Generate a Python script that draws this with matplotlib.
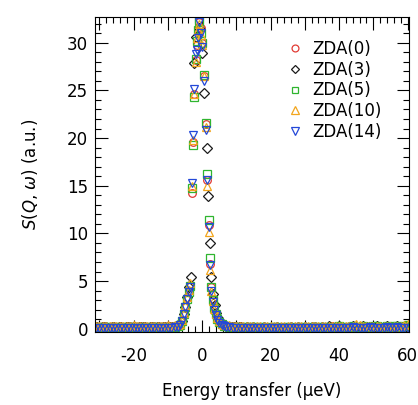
"""S(Q, w) quasi-elastic spectra for the ZDA samples."""
import matplotlib

matplotlib.use("Agg")
import matplotlib.pyplot as plt
import numpy as np
from matplotlib.ticker import MultipleLocator, FuncFormatter

DPI = 100
FIGSIZE = (4.18, 4.05)

# energy grid of the flat wings (ueV)
E_LEFT = np.arange(-31, -6, 1.0)
E_RIGHT = np.arange(7, 61, 1.0)

# energy grid around the elastic line (ueV)
E_PEAK = [-6.5, -5.9, -5.4, -4.9, -4.4, -3.9, -3.4, -2.9, -2.6, -2.25, -1.9, -1.55,
          -1.25, -0.95, -0.45, 0.05, 0.55, 1.05, 1.4, 1.95, 2.3, 2.7, 3.05, 3.5,
          4.0, 4.5, 5.0, 5.8, 6.5]
E_PEAK_ZDA3 = [-6.7, -6.0, -5.4, -4.9, -4.3, -3.7, -3.2, -2.3, -1.7, -0.9, 0.1, 0.6,
               1.3, 1.8, 2.2, 2.7, 3.2, 3.7, 4.2, 4.8, 5.5, 6.3]

# peak intensities
zda0_peak = [0.45, 0.9, 1.6, 2.4, 3.2, 4.0, 4.6, 14.2, 19.6, 24.6, 28.2, 29.8, 31.2,
             32.2, 31.5, 30.0, 26.5, 21.5, 15.6, 10.9, 6.8, 4.4, 3.1, 2.2, 1.6, 1.1,
             0.8, 0.5, 0.35]
zda3_peak = [0.4, 0.8, 1.5, 2.3, 3.3, 4.4, 5.4, 27.9, 30.6, 31.5, 28.9, 24.7, 19.0,
             13.9, 9.0, 5.4, 3.6, 2.5, 1.7, 1.1, 0.7, 0.4]
zda5_peak = [0.4, 0.85, 1.5, 2.3, 3.1, 3.9, 4.5, 14.8, 19.3, 24.3, 28.3, 30.2, 31.3,
             32.3, 31.0, 30.0, 26.6, 21.6, 16.2, 11.4, 7.4, 4.4, 3.0, 2.2, 1.5, 1.0,
             0.7, 0.45, 0.3]
zda10_peak = [0.5, 0.95, 1.7, 2.5, 3.3, 4.1, 4.8, 15.0, 19.8, 24.6, 28.0, 30.5, 31.3,
              32.0, 30.8, 29.8, 26.5, 21.2, 15.0, 10.2, 6.2, 4.0, 2.9, 2.1, 1.5, 1.1,
              0.8, 0.55, 0.4]
zda14_peak = [0.35, 0.8, 1.5, 2.3, 3.1, 3.9, 4.4, 15.3, 20.3, 25.2, 28.8, 29.2, 30.5,
              32.2, 31.0, 29.6, 26.0, 20.9, 15.6, 10.7, 6.7, 4.0, 2.8, 2.0, 1.4, 0.95,
              0.65, 0.4, 0.25]

# wing intensities (left: -31..-7, right: 7..60)
zda0_left = [0.24, 0.21, 0.27, 0.23, 0.2, 0.25, 0.22, 0.26, 0.21, 0.24, 0.23, 0.27, 0.21,
             0.25, 0.24, 0.22, 0.26, 0.23, 0.25, 0.21, 0.24, 0.27, 0.26, 0.29, 0.32]
zda0_right = [0.3, 0.27, 0.25, 0.23, 0.24, 0.21, 0.22, 0.2, 0.23, 0.21,
              0.2, 0.22, 0.19, 0.21, 0.2, 0.23, 0.18, 0.21, 0.2, 0.22,
              0.19, 0.23, 0.2, 0.21, 0.18, 0.22, 0.2, 0.19, 0.23, 0.21,
              0.2, 0.24, 0.18, 0.22, 0.21, 0.19, 0.23, 0.2, 0.22, 0.18,
              0.21, 0.24, 0.2, 0.19, 0.22, 0.21, 0.18, 0.23, 0.2, 0.22,
              0.19, 0.21, 0.24, 0.2]
zda3_left = [0.15, 0.12, 0.18, 0.14, 0.11, 0.16, 0.13, 0.17, 0.12, 0.15, 0.14, 0.18, 0.12,
             0.16, 0.15, 0.13, 0.17, 0.14, 0.16, 0.12, 0.15, 0.18, 0.17, 0.22, 0.28]
zda3_right = [0.26, 0.2, 0.17, 0.15, 0.16, 0.13, 0.14, 0.12, 0.15, 0.13,
              0.12, 0.14, 0.11, 0.13, 0.12, 0.15, 0.1, 0.13, 0.12, 0.16,
              0.11, 0.15, 0.12, 0.18, 0.1, 0.14, 0.22, 0.11, 0.15, 0.13,
              0.25, 0.12, 0.1, 0.28, 0.13, 0.11, 0.15, 0.3, 0.14, 0.1,
              0.26, 0.16, 0.12, 0.11, 0.3, 0.13, 0.1, 0.27, 0.12, 0.15,
              0.28, 0.11, 0.16, 0.13]
zda5_left = [0.18, 0.15, 0.2, 0.16, 0.14, 0.19, 0.15, 0.2, 0.14, 0.17, 0.16, 0.21, 0.15,
             0.18, 0.17, 0.15, 0.2, 0.16, 0.18, 0.14, 0.17, 0.2, 0.19, 0.22, 0.26]
zda5_right = [0.25, 0.21, 0.18, 0.16, 0.17, 0.15, 0.16, 0.14, 0.17, 0.15,
              0.14, 0.16, 0.13, 0.15, 0.14, 0.17, 0.13, 0.15, 0.14, 0.18,
              0.13, 0.17, 0.14, 0.19, 0.13, 0.16, 0.2, 0.14, 0.17, 0.15,
              0.22, 0.15, 0.13, 0.25, 0.16, 0.14, 0.2, 0.28, 0.17, 0.15,
              0.32, 0.2, 0.16, 0.3, 0.26, 0.18, 0.15, 0.3, 0.2, 0.27,
              0.33, 0.18, 0.3, 0.35]
zda10_left = [0.32, 0.3, 0.34, 0.31, 0.29, 0.33, 0.3, 0.34, 0.29, 0.32, 0.31, 0.35, 0.3,
              0.33, 0.32, 0.3, 0.34, 0.31, 0.33, 0.29, 0.32, 0.35, 0.34, 0.37, 0.42]
zda10_right = [0.42, 0.37, 0.34, 0.32, 0.33, 0.3, 0.31, 0.29, 0.32, 0.3,
               0.29, 0.31, 0.28, 0.3, 0.29, 0.32, 0.27, 0.3, 0.29, 0.31,
               0.28, 0.32, 0.29, 0.3, 0.27, 0.31, 0.29, 0.28, 0.32, 0.3,
               0.29, 0.33, 0.27, 0.31, 0.3, 0.28, 0.32, 0.29, 0.45, 0.4,
               0.3, 0.33, 0.29, 0.28, 0.31, 0.3, 0.27, 0.32, 0.29, 0.31,
               0.28, 0.3, 0.38, 0.45]
zda14_left = [0.1, 0.08, 0.12, 0.09, 0.07, 0.11, 0.08, 0.12, 0.07, 0.1, 0.09, 0.13, 0.08,
              0.11, 0.1, 0.08, 0.12, 0.09, 0.11, 0.07, 0.1, 0.13, 0.12, 0.16, 0.22]
zda14_right = [0.2, 0.15, 0.12, 0.1, 0.11, 0.08, 0.09, 0.07, 0.1, 0.08,
               0.07, 0.09, 0.06, 0.08, 0.07, 0.1, 0.06, 0.08, 0.07, 0.09,
               0.06, 0.1, 0.07, 0.09, 0.06, 0.08, 0.1, 0.07, 0.12, 0.08,
               0.1, 0.07, 0.06, 0.13, 0.08, 0.07, 0.12, 0.15, 0.09, 0.07,
               0.12, 0.09, 0.14, 0.08, 0.13, 0.11, 0.07, 0.14, 0.1, 0.12,
               0.15, 0.08, 0.13, 0.1]

SERIES = [
    # label, peak energies, peak, left wing, right wing, marker, size, colour
    ("ZDA(0)", E_PEAK, zda0_peak, zda0_left, zda0_right, "o", 5.5, "#e23b34"),
    ("ZDA(3)", E_PEAK_ZDA3, zda3_peak, zda3_left, zda3_right, "D", 5.0, "#1a1a1a"),
    ("ZDA(5)", E_PEAK, zda5_peak, zda5_left, zda5_right, "s", 5.5, "#2fb52f"),
    ("ZDA(10)", E_PEAK, zda10_peak, zda10_left, zda10_right, "^", 6.0, "#f2a51c"),
    ("ZDA(14)", E_PEAK, zda14_peak, zda14_left, zda14_right, "v", 6.0, "#2448d8"),
]

plt.rcParams["font.family"] = ["DejaVu Sans"]
plt.rcParams["mathtext.fontset"] = "dejavusans"
FS = 12

fig = plt.figure(figsize=FIGSIZE, dpi=DPI)
ax = fig.add_axes([0.227, 0.18, 0.752, 0.778])

for label, e_pk, pk, left, right, mk, ms, col in SERIES:
    assert len(e_pk) == len(pk) and len(left) == len(E_LEFT) and len(right) == len(E_RIGHT)
    x = np.concatenate([E_LEFT, e_pk, E_RIGHT])
    y = np.concatenate([left, pk, right])
    ax.plot(x, y, linestyle="none", marker=mk, markersize=ms, markerfacecolor="none",
            markeredgecolor=col, markeredgewidth=0.9, label=label)

ax.set_xlim(-31.3, 60.5)
ax.set_ylim(-0.35, 32.7)

ax.xaxis.set_major_locator(MultipleLocator(10))
ax.xaxis.set_minor_locator(MultipleLocator(2))
ax.xaxis.set_major_formatter(FuncFormatter(lambda v, p: f"{v:.0f}" if round(v) % 20 == 0 else ""))
ax.yaxis.set_major_locator(MultipleLocator(5))
ax.yaxis.set_minor_locator(MultipleLocator(1))
ax.tick_params(which="both", direction="in", top=True, right=True, width=0.8, labelsize=FS)
ax.tick_params(which="major", length=9)
ax.tick_params(which="minor", length=4.5)
ax.tick_params(axis="x", pad=11)
ax.tick_params(axis="y", pad=5)
for s in ax.spines.values():
    s.set_linewidth(0.8)

ax.set_xlabel("Energy transfer (\u03bceV)", fontsize=FS, labelpad=12)
ax.set_ylabel(r"$S$($Q$, $\omega$) (a.u.)", fontsize=FS, labelpad=19)

ax.legend(loc="upper right", bbox_to_anchor=(0.95, 0.965), frameon=False, fontsize=FS,
          handlelength=0.9, handletextpad=0.6, labelspacing=0.17, borderpad=0.2,
          markerscale=0.9)

fig.savefig("out.png", dpi=DPI)
plt.close(fig)
